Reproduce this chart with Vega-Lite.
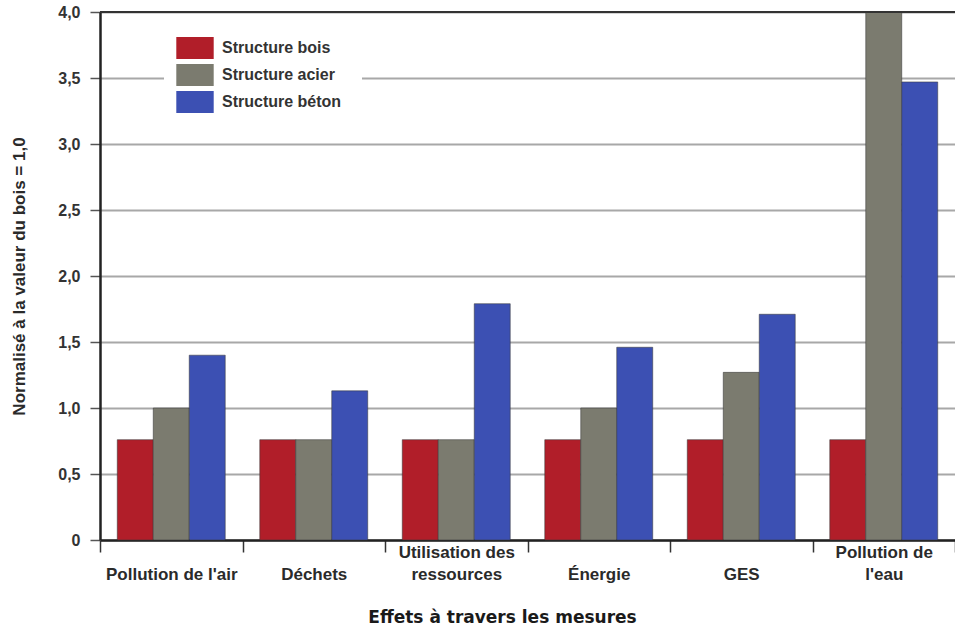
{
  "$schema": "https://vega.github.io/schema/vega-lite/v6.json",
  "width": 855,
  "height": 528,
  "autosize": {"type": "none"},
  "padding": {"left": 100, "top": 12, "right": 0, "bottom": 88},
  "background": "white",
  "config": {
    "view": {"stroke": null},
    "font": "Liberation Sans"
  },
  "data": {
    "values": [
      {"mesure": "Pollution de l'air", "structure": "Structure bois", "valeur": 0.76},
      {"mesure": "Pollution de l'air", "structure": "Structure acier", "valeur": 1.0},
      {"mesure": "Pollution de l'air", "structure": "Structure béton", "valeur": 1.40},
      {"mesure": "Déchets", "structure": "Structure bois", "valeur": 0.76},
      {"mesure": "Déchets", "structure": "Structure acier", "valeur": 0.76},
      {"mesure": "Déchets", "structure": "Structure béton", "valeur": 1.13},
      {"mesure": "Utilisation des ressources", "structure": "Structure bois", "valeur": 0.76},
      {"mesure": "Utilisation des ressources", "structure": "Structure acier", "valeur": 0.76},
      {"mesure": "Utilisation des ressources", "structure": "Structure béton", "valeur": 1.79},
      {"mesure": "Énergie", "structure": "Structure bois", "valeur": 0.76},
      {"mesure": "Énergie", "structure": "Structure acier", "valeur": 1.0},
      {"mesure": "Énergie", "structure": "Structure béton", "valeur": 1.46},
      {"mesure": "GES", "structure": "Structure bois", "valeur": 0.76},
      {"mesure": "GES", "structure": "Structure acier", "valeur": 1.27},
      {"mesure": "GES", "structure": "Structure béton", "valeur": 1.71},
      {"mesure": "Pollution de l'eau", "structure": "Structure bois", "valeur": 0.76},
      {"mesure": "Pollution de l'eau", "structure": "Structure acier", "valeur": 4.0},
      {"mesure": "Pollution de l'eau", "structure": "Structure béton", "valeur": 3.47}
    ]
  },
  "layer": [
    {
      "mark": {"type": "bar", "stroke": "#3a3a3a", "strokeWidth": 0.8, "strokeOpacity": 0.7},
      "encoding": {
        "x": {
          "field": "mesure",
          "type": "nominal",
          "sort": null,
          "scale": {"paddingInner": 0, "paddingOuter": 0},
          "axis": {
            "title": "Effets à travers les mesures",
            "titleFont": "DejaVu Sans",
            "titleFontSize": 17,
            "titleFontWeight": "bold",
            "titleColor": "#1a1a1a",
            "titlePadding": 27,
            "titleX": 402,
            "labelAngle": 0,
            "labelFontSize": 17,
            "labelFontWeight": "bold",
            "labelColor": "#2a2a2a",
            "labelBaseline": "middle",
            "labelLineHeight": 22,
            "labelPadding": 0,
            "labelExpr": "datum.label == 'Utilisation des ressources' ? ['Utilisation des', 'ressources'] : datum.label == \"Pollution de l'eau\" ? ['Pollution de', \"l'eau\"] : [' ', datum.label]",
            "tickBand": "extent",
            "tickSize": 12,
            "tickColor": "#333",
            "tickWidth": 1.5,
            "domainColor": "#222",
            "domainWidth": 2.5,
            "grid": false
          }
        },
        "xOffset": {"field": "structure", "type": "nominal", "sort": ["Structure bois", "Structure acier", "Structure béton"], "scale": {"paddingInner": 0, "paddingOuter": 0.48}},
        "y": {
          "field": "valeur",
          "type": "quantitative",
          "scale": {"domain": [0, 4], "nice": false},
          "axis": {
            "title": "Normalisé à la valeur du bois = 1,0",
            "titleFont": "Liberation Sans",
            "titleFontSize": 17,
            "titleFontWeight": "bold",
            "titleColor": "#2a2a2a",
            "titlePadding": 29,
            "values": [0, 0.5, 1, 1.5, 2, 2.5, 3, 3.5, 4],
            "labelExpr": "datum.value == 0 ? '0' : replace(format(datum.value, '.1f'), '.', ',')",
            "labelFontSize": 16,
            "labelFontWeight": "bold",
            "labelColor": "#333",
            "labelPadding": 10,
            "tickSize": 10,
            "tickColor": "#555",
            "tickWidth": 1.5,
            "domainColor": "#222",
            "domainWidth": 2.5,
            "grid": true,
            "gridColor": "#a8a8a8",
            "gridWidth": 2
          }
        },
        "color": {
          "field": "structure",
          "type": "nominal",
          "scale": {
            "domain": ["Structure bois", "Structure acier", "Structure béton"],
            "range": ["#b11e29", "#7b7b6f", "#3c50b3"]
          },
          "legend": {
            "title": null,
            "orient": "none",
            "legendX": 64,
            "legendY": 5,
            "padding": 20,
            "fillColor": "white",
            "symbolType": "M-1.7,-1H1.7V1H-1.7Z",
            "symbolSize": 484,
            "symbolStrokeWidth": 0,
            "symbolOpacity": 1,
            "labelFontSize": 16,
            "labelFontWeight": "bold",
            "labelColor": "#333",
            "labelOffset": 16,
            "labelLimit": 400,
            "rowPadding": 5
          }
        }
      }
    },
    {
      "mark": {"type": "rule", "color": "#333", "strokeWidth": 2},
      "encoding": {"y": {"datum": 4}}
    }
  ]
}
